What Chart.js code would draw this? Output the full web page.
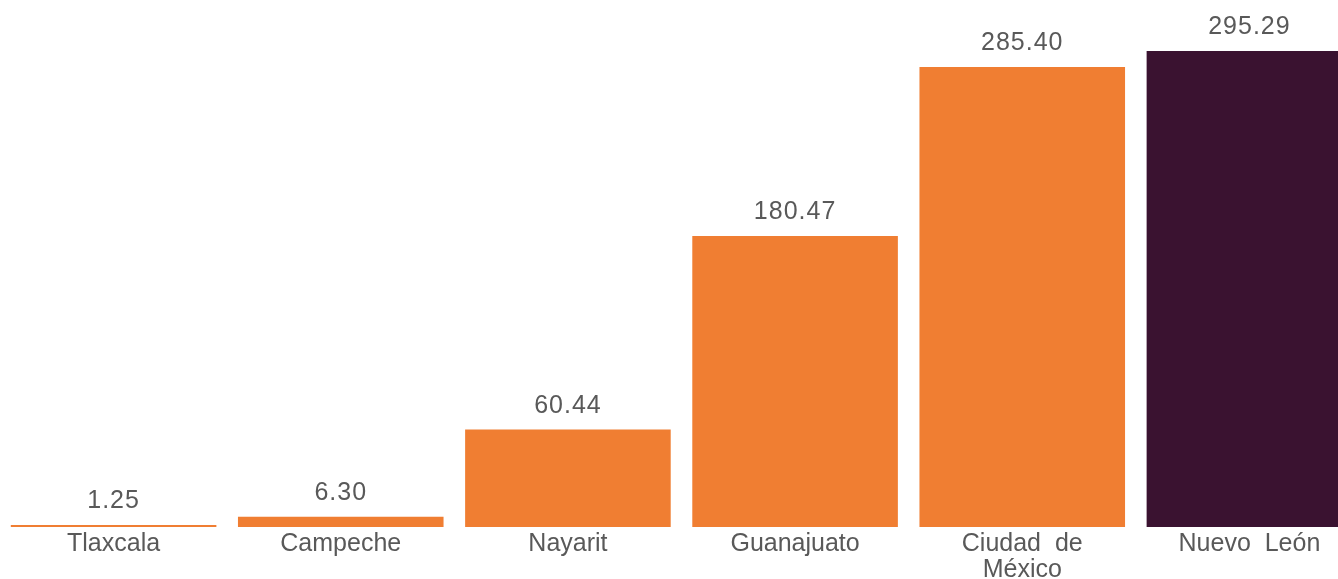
<!DOCTYPE html>
<html>
<head>
<meta charset="utf-8">
<script src="https://cdn.jsdelivr.net/npm/chart.js@4.4.1/dist/chart.umd.min.js"></script>
<style>
  html, body { margin: 0; padding: 0; background: #fff; overflow: hidden; }
  #wrap { position: relative; width: 1363px; height: 579px; }
</style>
</head>
<body>
<div id="wrap"><canvas id="chart"></canvas></div>
<script>
// datos
const categories = ["Tlaxcala", "Campeche", "Nayarit", "Guanajuato", ["Ciudad  de", "México"], "Nuevo  León"];
const values = [1.25, 6.30, 60.44, 180.47, 285.40, 295.29];
const barColors = ["#F07E32", "#F07E32", "#F07E32", "#F07E32", "#F07E32", "#3A1230"];

const textColor = "#595959";
const fontFamily = "'Liberation Sans', Arial, sans-serif";

// etiquetas de valor encima de cada barra
const valueLabels = {
  id: "valueLabels",
  afterDatasetsDraw(chart) {
    const ctx = chart.ctx;
    const meta = chart.getDatasetMeta(0);
    ctx.save();
    ctx.font = "25px " + fontFamily;
    ctx.fillStyle = textColor;
    ctx.textAlign = "center";
    ctx.textBaseline = "alphabetic";
    if ("letterSpacing" in ctx) ctx.letterSpacing = "1px";
    meta.data.forEach((bar, i) => {
      ctx.fillText(values[i].toFixed(2), bar.x, bar.y - 17);
    });
    ctx.restore();
  },
};

new Chart(document.getElementById("chart"), {
  type: "bar",
  data: {
    labels: categories,
    datasets: [{
      data: values,
      backgroundColor: barColors,
      borderWidth: 0,
      barPercentage: 0.905,
      categoryPercentage: 1.0,
    }],
  },
  options: {
    responsive: true,
    maintainAspectRatio: false,
    animation: false,
    layout: { padding: { top: 51, left: 0, right: 0, bottom: 0 } },
    plugins: { legend: { display: false }, tooltip: { enabled: false } },
    scales: {
      x: {
        grid: { display: false, drawTicks: false },
        border: { display: false },
        ticks: {
          color: textColor,
          font: { family: fontFamily, size: 25, lineHeight: 1.03 },
          padding: 4,
          maxRotation: 0,
          autoSkip: false,
        },
        afterFit(scale) { scale.height = 52; },
      },
      y: {
        display: false,
        min: 0,
        max: 295.29,
      },
    },
  },
  plugins: [valueLabels],
});
</script>
</body>
</html>
